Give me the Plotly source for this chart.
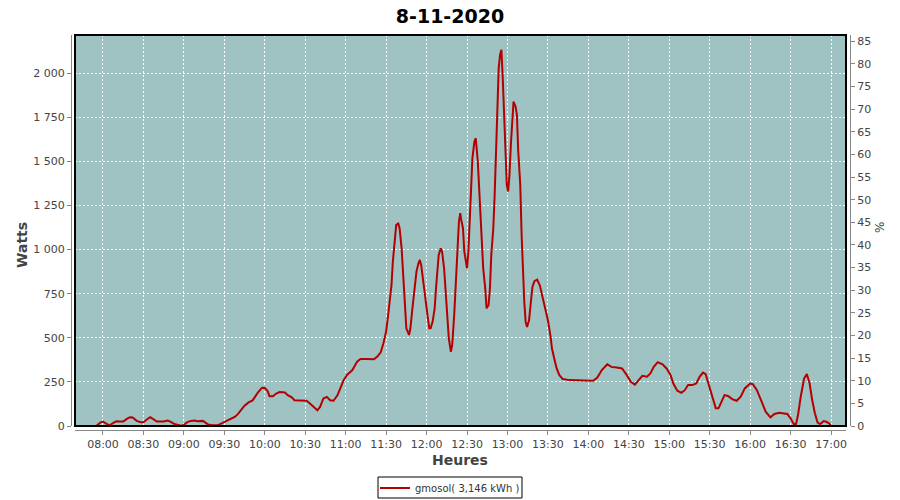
import plotly.graph_objects as go

DAY = "2020-11-08 "
times = [
    "07:49", "07:55", "07:58", "08:00", "08:03", "08:05", "08:08", "08:10", "08:13", "08:15",
    "08:18", "08:20", "08:22", "08:25", "08:28", "08:30", "08:33", "08:35", "08:37", "08:40",
    "08:43", "08:45", "08:48", "08:50", "08:53", "08:56", "08:58", "09:00", "09:02", "09:05",
    "09:08", "09:10", "09:12", "09:14", "09:16", "09:18", "09:21", "09:25", "09:28", "09:30",
    "09:33", "09:35", "09:38", "09:40", "09:43", "09:45", "09:48", "09:51", "09:53", "09:55",
    "09:58", "10:00", "10:02", "10:03:30", "10:06", "10:08:30", "10:11", "10:15", "10:17", "10:20",
    "10:22", "10:26", "10:31", "10:33:30", "10:36", "10:39", "10:41", "10:43:30", "10:46", "10:48:30",
    "10:51", "10:54", "10:56", "10:58:30", "11:01", "11:05", "11:08:30", "11:11", "11:15", "11:21",
    "11:23:30", "11:26", "11:28", "11:30", "11:31:30", "11:33", "11:34", "11:35", "11:36:30", "11:37:30",
    "11:39", "11:40", "11:41:30", "11:42:30", "11:44", "11:45", "11:47", "11:48", "11:49:30", "11:51",
    "11:52:30", "11:54", "11:55", "11:56", "11:57:30", "11:59", "12:01", "12:02", "12:03", "12:04:30",
    "12:06", "12:07", "12:08", "12:09", "12:10:30", "12:11:30", "12:13", "12:14", "12:15:30", "12:16:30",
    "12:18", "12:19", "12:20:30", "12:22", "12:23", "12:24", "12:25", "12:25:30", "12:27", "12:28",
    "12:29:30", "12:30", "12:31", "12:32", "12:33", "12:34", "12:35:30", "12:36:30", "12:38", "12:39",
    "12:40", "12:41", "12:42", "12:43:30", "12:44:30", "12:46", "12:47", "12:48", "12:49:30", "12:50:30",
    "12:51:30", "12:52:30", "12:53:30", "12:54:30", "12:55:30", "12:56:30", "12:57:30", "12:58:30", "12:59:30", "13:00:30",
    "13:01:30", "13:02:30", "13:03:30", "13:04:30", "13:06", "13:07", "13:08", "13:09:30", "13:10:30", "13:11:30",
    "13:12:30", "13:13:30", "13:14:30", "13:16", "13:17", "13:18:30", "13:20", "13:22", "13:24", "13:26",
    "13:28", "13:30", "13:32", "13:33", "13:35", "13:36:30", "13:38:30", "13:41", "13:46", "13:54",
    "14:01", "14:03:30", "14:06:30", "14:10", "14:14", "14:17", "14:21", "14:25", "14:28", "14:31:30",
    "14:34:30", "14:37:30", "14:40", "14:43:30", "14:46", "14:48:30", "14:51:30", "14:55", "14:58", "15:01",
    "15:03", "15:06", "15:09", "15:11:30", "15:14", "15:17", "15:20", "15:22:30", "15:25", "15:27",
    "15:29:30", "15:32", "15:34:30", "15:36:30", "15:38:30", "15:41", "15:43:30", "15:47", "15:50", "15:53",
    "15:56", "16:00", "16:02", "16:05", "16:08:30", "16:11:30", "16:15", "16:18", "16:21:30", "16:25",
    "16:27:30", "16:30", "16:32:30", "16:34", "16:35:30", "16:37:30", "16:40", "16:42", "16:44", "16:46",
    "16:48", "16:50", "16:52", "16:54:30", "16:56:30", "16:58:30", "17:00",
]
watts = [
    0, 0, 19, 25, 11, 4, 19, 27, 25, 25,
    42, 50, 48, 29, 21, 21, 40, 50, 40, 25,
    25, 25, 31, 25, 11, 4, 2, 6, 19, 29,
    31, 27, 29, 29, 19, 8, 4, 4, 15, 23,
    34, 42, 53, 67, 95, 115, 134, 145, 168, 191,
    217, 215, 200, 169, 169, 184, 192, 190, 175, 162,
    146, 143, 143, 127, 108, 89, 108, 156, 165, 146,
    143, 175, 213, 260, 289, 317, 365, 380, 380, 378,
    393, 418, 469, 535, 629, 724, 799, 932, 1045, 1140,
    1147, 1121, 1007, 856, 648, 554, 516, 554, 667, 781,
    875, 922, 941, 913, 818, 705, 610, 554, 554, 592,
    667, 781, 875, 970, 1007, 988, 894, 781, 648, 497,
    421, 459, 629, 818, 1007, 1159, 1206, 1177, 1121, 988,
    913, 894, 988, 1159, 1366, 1518, 1612, 1631, 1499, 1329,
    1177, 1045, 894, 781, 667, 686, 781, 970, 1121, 1310,
    1556, 1782, 2028, 2104, 2132, 1971, 1744, 1556, 1366, 1329,
    1423, 1593, 1726, 1839, 1811, 1763, 1556, 1366, 1083, 860,
    700, 590, 561, 599, 674, 788, 821, 829, 797, 731,
    665, 599, 505, 439, 373, 326, 288, 266, 260, 260,
    260, 256, 273, 317, 350, 335, 332, 326, 294, 251,
    235, 260, 284, 279, 298, 335, 362, 350, 326, 288,
    241, 200, 188, 203, 232, 232, 241, 279, 303, 294,
    226, 156, 100, 100, 138, 175, 170, 151, 143, 166,
    213, 241, 237, 203, 138, 81, 49, 68, 75, 72,
    68, 43, 9, 11, 62, 166, 269, 294, 245, 147,
    72, 19, 11, 28, 24, 15, 2,
]
series_name = "gmosol( 3,146 kWh )"
title_text = "8-11-2020"
y_title = "Watts"
y2_title = "%"
x_title = "Heures"

x = [DAY + t for t in times]

# the page body adds an 8px offset; compensate so the picture lands at 900x500 coordinates
OFF = 8
W, H = 900 - OFF, 500 - OFF
# target pixel positions in the 900x500 window
AX_L, AX_R, TOP, AX_B = 71, 850, 35, 430
ml, mr, mt, mb = AX_L - OFF, 900 - AX_R, TOP - OFF, 500 - AX_B
pw, ph = W - ml - mr, H - mt - mb
gap = 4


def px(xp):
    return (xp - AX_L) / pw


def py(yp):
    return (AX_B - yp) / ph


fig = go.Figure()
fig.add_trace(go.Scatter(
    x=x, y=watts, mode="lines", name=series_name,
    line=dict(color="#b40000", width=2), showlegend=True,
))
fig.add_trace(go.Scatter(
    x=[x[0]], y=[None], yaxis="y2", mode="lines", showlegend=False,
    hoverinfo="skip",
))

tickfont = dict(family="DejaVu Sans", size=11, color="#444444")
grid = dict(showgrid=True, gridcolor="white", griddash="2px,2px", gridwidth=1)

fig.update_layout(
    width=W, height=H,
    margin=dict(l=ml, r=mr, t=mt, b=mb, autoexpand=False),
    paper_bgcolor="white",
    plot_bgcolor="#9ec3c2",
    separators=", ",
    title=dict(text="<b>" + title_text + "</b>", x=(450 - OFF) / W, xanchor="center",
               y=1 - (16 - OFF) / H, yanchor="middle", yref="container",
               font=dict(family="DejaVu Sans", size=19, color="black")),
    xaxis=dict(
        type="date", domain=[gap / pw, 1 - gap / pw], anchor="free", position=0,
        range=[DAY + "07:39:15", DAY + "17:11:05"],
        tick0=DAY + "08:00", dtick=30 * 60 * 1000, tickformat="%H:%M",
        showline=True, linecolor="#888888", linewidth=1,
        ticks="outside", ticklen=4, tickcolor="#888888",
        tickfont=tickfont, zeroline=False, automargin=False, **grid,
    ),
    yaxis=dict(
        domain=[gap / ph, 1], anchor="free", position=0,
        range=[0, 2216], tick0=0, dtick=250, separatethousands=True,
        showline=True, linecolor="#888888", linewidth=1,
        ticks="outside", ticklen=4, tickcolor="#888888",
        tickfont=tickfont, zeroline=False, automargin=False, **grid,
    ),
    yaxis2=dict(
        overlaying="y", side="right", anchor="free", position=1,
        range=[0, 86.4], tick0=0, dtick=5,
        showline=True, linecolor="#888888", linewidth=1,
        ticks="outside", ticklen=4, tickcolor="#888888",
        tickfont=tickfont, showgrid=False, zeroline=False, automargin=False,
    ),
    legend=dict(
        orientation="h", x=px(450), xanchor="center", y=py(488), yanchor="middle",
        borderwidth=0, bgcolor="rgba(0,0,0,0)", itemwidth=30,
        font=dict(family="DejaVu Sans", size=10, color="#333333"),
    ),
    showlegend=True,
    shapes=[
        dict(type="rect", xref="x domain", yref="y domain", x0=0, x1=1, y0=0, y1=1,
             line=dict(color="black", width=2), fillcolor="rgba(0,0,0,0)", layer="above"),
        dict(type="rect", xref="paper", yref="paper", x0=px(378), x1=px(522),
             y0=py(477), y1=py(498), line=dict(color="black", width=1),
             fillcolor="rgba(0,0,0,0)"),
    ],
    annotations=[
        dict(text="<b>" + y_title + "</b>", xref="paper", yref="paper",
             x=px(22), y=py(245), xanchor="center", yanchor="middle",
             textangle=-90, showarrow=False,
             font=dict(family="DejaVu Sans", size=14, color="#444444")),
        dict(text="<b>" + x_title + "</b>", xref="paper", yref="paper",
             x=px(460), y=py(460), xanchor="center", yanchor="middle", showarrow=False,
             font=dict(family="DejaVu Sans", size=14, color="#444444")),
        dict(text=y2_title, xref="paper", yref="paper",
             x=px(880), y=py(228), xanchor="center", yanchor="middle",
             textangle=-90, showarrow=False,
             font=dict(family="DejaVu Sans", size=12, color="#444444")),
    ],
)

fig.write_html("out.html")
